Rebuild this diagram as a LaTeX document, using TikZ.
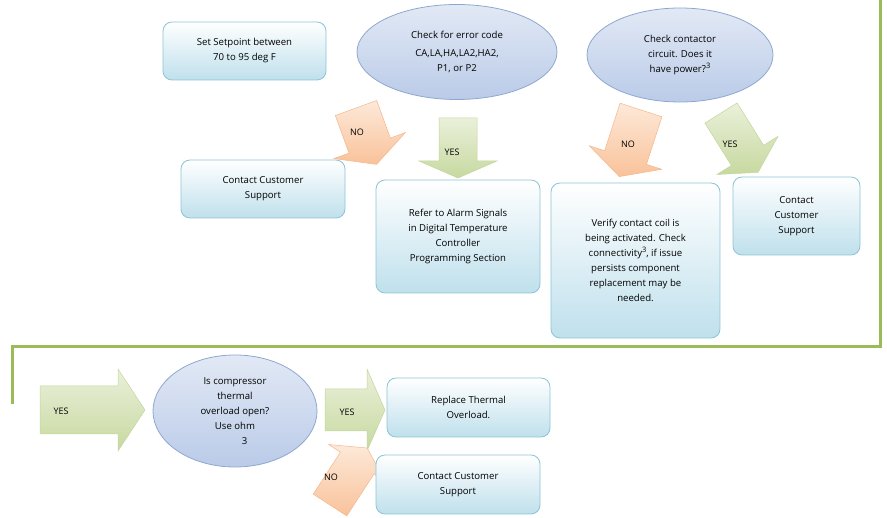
\documentclass[tikz,border=0pt]{standalone}
\usepackage{fontspec}
\setmainfont{Open Sans}
\usetikzlibrary{shapes.geometric}
\definecolor{gline}{HTML}{9BBB59}
\newcommand\supthree{\raisebox{4pt}{\fontsize{7.5}{8}\selectfont 3}}
\tikzset{
  box/.style={draw=boxb, rounded corners=9pt, top color=white, bottom color=boxf, line width=0.8pt, align=center, font=\fontsize{9.6}{15}\selectfont, inner sep=2pt},
  ell/.style={ellipse, draw=ellb, top color=ellt, bottom color=ellf, line width=0.8pt, align=center, font=\fontsize{9.6}{15}\selectfont, inner sep=0pt},
  garr/.style={draw=gab, top color=gat, bottom color=gaf, line width=0.5pt},
  oarr/.style={draw=oab, top color=oat, bottom color=oaf, line width=0.5pt},
  lab/.style={font=\fontsize{9}{10}\selectfont}
}
\definecolor{boxb}{HTML}{8CC4D5}\definecolor{boxf}{HTML}{BFE0EC}
\definecolor{ellb}{HTML}{8FA7D0}\definecolor{ellt}{HTML}{E2E9F5}\definecolor{ellf}{HTML}{BACBE8}
\definecolor{gab}{HTML}{C3D69B}\definecolor{gat}{HTML}{EAF0DA}\definecolor{gaf}{HTML}{C7D9A0}
\definecolor{oab}{HTML}{F5B78A}\definecolor{oat}{HTML}{FDE9D9}\definecolor{oaf}{HTML}{F9C29A}
% #1 x, #2 y (tail centre), #3 angle, #4 length, #5 shaft half, #6 head half, #7 head length, #8 style
\newcommand\fatarr[8]{\begin{scope}[shift={(#1,#2)},rotate=#3]
\path[#8] (0,-#5)--(#4-#7,-#5)--(#4-#7,-#6)--(#4,0)--(#4-#7,#6)--(#4-#7,#5)--(0,#5)--cycle;
\end{scope}}
\begin{document}
\begin{tikzpicture}[x=1pt,y=-1pt]
\useasboundingbox (0,0) rectangle (887,518);
% green frame line
\coordinate (g1) at (12,404);\coordinate (g2) at (12,347);\coordinate (g3) at (880,347);\coordinate (g4) at (880,0);
\draw[gline, line width=3pt] (g1)--(g2)--(g3)--(g4);
% arrows
\fatarr{458}{118}{-90}{60}{19}{39}{17}{garr}
\fatarr{356}{108}{-70}{60}{22}{38}{20}{oarr}
\fatarr{641}{110}{-108}{70}{22}{38}{20}{oarr}
\fatarr{721}{113}{-58}{70}{19}{36}{20}{garr}
\fatarr{40}{410}{0}{105}{24}{41}{27}{garr}
\fatarr{325}{410}{0}{60}{21}{41}{18}{garr}
\fatarr{330}{505}{57}{68}{20}{34}{18}{oarr}
\node[lab] (no1) at (357,132) {NO};
\node[lab] (yes1) at (452,152) {YES};
\node[lab] (no2) at (628,144) {NO};
\node[lab] (yes2) at (730,144) {YES};
\node[lab] (yes3) at (61,411) {YES};
\node[lab] (yes4) at (347,412) {YES};
\node[lab] (no3) at (331,477) {NO};
% boxes
\node[box, minimum width=163pt, minimum height=58pt] (sp) at (244.5,51) {Set Setpoint between\\70 to 95 deg F};
\node[ell, minimum width=200pt, minimum height=95pt] (err) at (457,52) {Check for error code\\[3pt]CA,LA,HA,LA2,HA2,\\P1, or P2};
\node[ell, minimum width=186pt, minimum height=94pt] (cc) at (680,55) {Check contactor\\circuit. Does it\\have power?\supthree};
\node[box, minimum width=164pt, minimum height=58pt] (cs1) at (263,189) {Contact Customer\\Support};
\node[box, minimum width=164pt, minimum height=113pt] (ref) at (458,236.5) {Refer to Alarm Signals\\in Digital Temperature\\Controller\\Programming Section};
\node[box, minimum width=169pt, minimum height=155pt] (ver) at (635.5,260.5) {Verify contact coil is\\being activated. Check\\connectivity\supthree, if issue\\persists component\\replacement may be\\needed.};
\node[box, minimum width=127pt, minimum height=78pt] (cs2) at (796.5,216) {Contact\\Customer\\Support};
\node[ell, minimum width=164pt, minimum height=112pt] (th) at (235,411) {Is compressor\\thermal\\overload open?\\Use ohm\\\hspace*{2em}3};
\node[box, minimum width=163pt, minimum height=59pt] (rt) at (468.5,407.5) {Replace Thermal\\Overload.};
\node[box, minimum width=164pt, minimum height=59pt] (cs3) at (458,484.5) {Contact Customer\\Support};
\end{tikzpicture}
\end{document}
